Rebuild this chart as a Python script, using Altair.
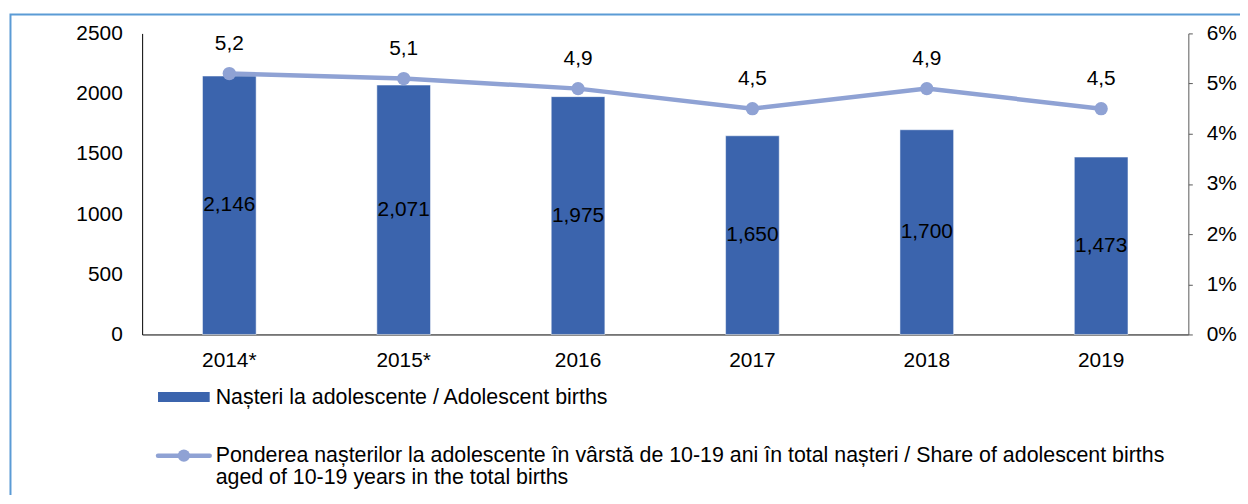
import altair as alt
import pandas as pd

years = ["2014*", "2015*", "2016", "2017", "2018", "2019"]
births = [2146, 2071, 1975, 1650, 1700, 1473]
share = [5.2, 5.1, 4.9, 4.5, 4.9, 4.5]

legend_bar = "Nașteri la adolescente / Adolescent births"
legend_line_1 = "Ponderea nașterilor la adolescente în vârstă de 10-19 ani în total nașteri / Share of adolescent births"
legend_line_2 = "aged of 10-19 years in the total births"

BAR_COLOR = "#3B64AD"
LINE_COLOR = "#8FA2D4"
FONT = "Liberation Sans"
FS = 21
LFS = 21.5

df = pd.DataFrame({
    "year": years,
    "births": births,
    "share": share,
    "blabel": [f"{v:,}" for v in births],
    "slabel": [f"{v:.1f}".replace(".", ",") for v in share],
})
one = pd.DataFrame({"k": [0]})

x_enc = alt.X("year:N", sort=years, title=None,
              scale=alt.Scale(paddingInner=0, paddingOuter=0),
              axis=alt.Axis(labelAngle=0, ticks=False, labelPadding=15,
                            domainColor="#000000", labelFontSize=FS, labelColor="#000000"))

left_axis = alt.Axis(values=[0, 500, 1000, 1500, 2000, 2500], format="d", ticks=False,
                     labelPadding=20, domainColor="#000000", grid=False,
                     labelFontSize=FS, labelColor="#000000", title=None)

base = alt.Chart(df)

bars = base.mark_bar(size=54, color=BAR_COLOR, stroke="#ffffff", strokeWidth=0.5).encode(
    x=x_enc,
    y=alt.Y("births:Q", title=None, scale=alt.Scale(domain=[0, 2500]), axis=left_axis)
)
bar_labels = base.transform_calculate(mid="datum.births / 2").mark_text(
    font=FONT, fontSize=FS, color="#000000", baseline="middle").encode(
    x=x_enc,
    y=alt.Y("mid:Q", title=None, scale=alt.Scale(domain=[0, 2500]), axis=left_axis),
    text="blabel:N",
)
left_group = alt.layer(bars, bar_labels)

y_share = alt.Y("share:Q", title=None, scale=alt.Scale(domain=[0, 6]),
                axis=alt.Axis(orient="right", values=[0, 1, 2, 3, 4, 5, 6],
                              labelExpr="datum.value + '%'", tickSize=4, labelPadding=14,
                              domainColor="#595959", tickColor="#595959", grid=False,
                              labelFontSize=FS, labelColor="#000000"))
line = base.mark_line(color=LINE_COLOR, strokeWidth=4.5).encode(x=x_enc, y=y_share)
points = base.mark_circle(color=LINE_COLOR, size=180, opacity=1).encode(x=x_enc, y=y_share)
line_labels = base.mark_text(font=FONT, fontSize=FS, color="#000000", dy=-30,
                             baseline="middle").encode(x=x_enc, y=y_share, text="slabel:N")
right_group = alt.layer(line, points, line_labels)

frame = alt.Chart(one).mark_rect(fillOpacity=0, stroke="#5B9BD5", strokeWidth=2).encode(
    x=alt.value(-132.5), x2=alt.value(1300), y=alt.value(-19), y2=alt.value(600))

leg_rect = alt.Chart(one).mark_rect(color=BAR_COLOR).encode(
    x=alt.value(16), x2=alt.value(68), y=alt.value(361), y2=alt.value(371))
leg_text1 = alt.Chart(one).mark_text(font=FONT, fontSize=LFS, align="left", baseline="middle",
                                     color="#000000").encode(
    x=alt.value(74), y=alt.value(367), text=alt.value(legend_bar))
leg_rule = alt.Chart(one).mark_rule(color=LINE_COLOR, strokeWidth=4.5, strokeCap="round").encode(
    x=alt.value(16), x2=alt.value(68), y=alt.value(425))
leg_dot = alt.Chart(one).mark_circle(color=LINE_COLOR, size=150, opacity=1).encode(
    x=alt.value(42), y=alt.value(425))
leg_text2 = alt.Chart(one).mark_text(font=FONT, fontSize=LFS, align="left", baseline="middle",
                                     color="#000000").encode(
    x=alt.value(74), y=alt.value(425), text=alt.value(legend_line_1))
leg_text3 = alt.Chart(one).mark_text(font=FONT, fontSize=LFS, align="left", baseline="middle",
                                     color="#000000").encode(
    x=alt.value(74), y=alt.value(448), text=alt.value(legend_line_2))

chart = alt.layer(
    frame, left_group, right_group, leg_rect, leg_text1, leg_rule, leg_dot, leg_text2, leg_text3
).resolve_scale(y="independent").properties(
    width=1053, height=303,
    padding={"left": 135, "top": 24, "right": 52, "bottom": 160},
    autosize=alt.AutoSizeParams(type="none"),
    background="#ffffff",
).configure_view(stroke=None).configure_axis(
    labelFont=FONT, labelFontSize=FS
).configure_text(font=FONT)

chart.save("out.html", embed_options={"renderer": "svg", "actions": False})
